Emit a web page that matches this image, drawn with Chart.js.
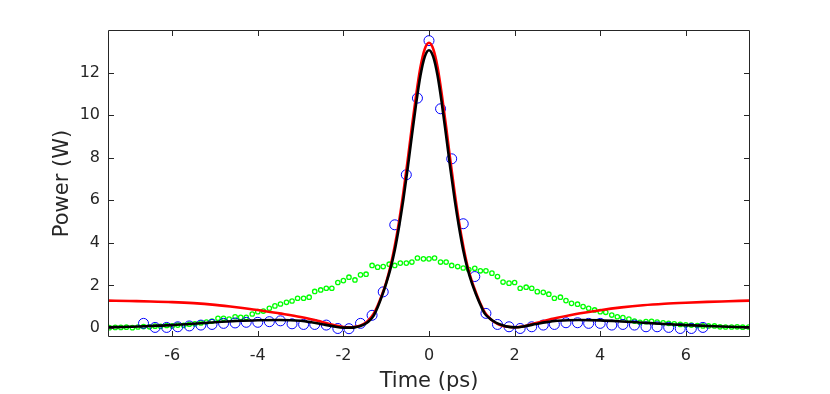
<!DOCTYPE html>
<html>
<head>
<meta charset="utf-8">
<script src="https://cdn.jsdelivr.net/npm/chart.js@4/dist/chart.umd.min.js"></script>
<style>
  body { margin: 0; background: #fff; }
  #chart { display: block; }
</style>
</head>
<body>
<canvas id="chart" width="830" height="394"></canvas>
<script>
// axis ticks
const xTickValues = [-6, -4, -2, 0, 2, 4, 6];
const yTickValues = [0, 2, 4, 6, 8, 10, 12];

// time grid for the two solid curves (ps)
const lineTime = [-7.5, -7, -6.5, -6, -5.5, -5, -4.5, -4, -3.5, -3, -2.75, -2.5, -2.25, -2, -1.8,
  -1.7, -1.6, -1.5, -1.4, -1.3, -1.2, -1.1, -1, -0.9, -0.8, -0.7, -0.6, -0.5, -0.4, -0.3, -0.2, -0.1,
  0,
  0.1, 0.2, 0.3, 0.4, 0.5, 0.6, 0.7, 0.8, 0.9, 1, 1.1, 1.2, 1.3, 1.4, 1.5, 1.6, 1.7,
  1.8, 2, 2.25, 2.5, 2.75, 3, 3.5, 4, 4.5, 5, 5.5, 6, 6.5, 7, 7.5];

// black curve (W)
const blackPower = [0.04, 0.06, 0.10, 0.14, 0.20, 0.27, 0.33, 0.37, 0.38, 0.34, 0.27, 0.18, 0.09, 0.02, 0.02,
  0.05, 0.10, 0.18, 0.33, 0.56, 0.98, 1.5, 2.1, 2.79, 3.66, 4.76, 6.03, 7.48, 9.04, 10.55, 11.86, 12.74,
  13.05,
  12.74, 11.86, 10.55, 9.04, 7.48, 6.03, 4.76, 3.66, 2.79, 2.12, 1.58, 1.1, 0.69, 0.48, 0.33, 0.22, 0.14,
  0.08, 0.03, 0.09, 0.19, 0.28, 0.34, 0.38, 0.36, 0.31, 0.25, 0.19, 0.14, 0.10, 0.06, 0.03];

// red curve (W)
const redPower = [1.29, 1.27, 1.25, 1.22, 1.17, 1.09, 0.98, 0.85, 0.69, 0.52, 0.41, 0.29, 0.15, 0.05, 0.04,
  0.07, 0.12, 0.22, 0.4, 0.65, 1.05, 1.55, 2.15, 2.9, 3.85, 5.0, 6.35, 7.85, 9.45, 10.95, 12.25, 13.1,
  13.4,
  13.1, 12.25, 10.95, 9.45, 7.85, 6.35, 5.0, 3.85, 2.9, 2.2, 1.65, 1.15, 0.75, 0.5, 0.32, 0.2, 0.12,
  0.07, 0.04, 0.1, 0.24, 0.37, 0.48, 0.68, 0.84, 0.97, 1.07, 1.14, 1.19, 1.23, 1.26, 1.29];

// blue open circles
const blueTime = [-6.67, -6.4, -6.13, -5.87, -5.6, -5.33, -5.07, -4.8, -4.53, -4.27, -4.0, -3.73, -3.47,
  -3.2, -2.93, -2.67, -2.4, -2.13, -1.87, -1.6, -1.33, -1.07, -0.8, -0.53, -0.27, 0,
  0.27, 0.53, 0.8, 1.07, 1.33, 1.6, 1.87, 2.13, 2.4, 2.67, 2.93, 3.2, 3.47, 3.73, 4.0, 4.27,
  4.53, 4.8, 5.07, 5.33, 5.6, 5.87, 6.13, 6.4];
const bluePower = [0.22, 0.03, 0.03, 0.06, 0.10, 0.14, 0.17, 0.22, 0.24, 0.27, 0.27, 0.30, 0.34,
  0.20, 0.17, 0.17, 0.14, -0.02, -0.03, 0.22, 0.6, 1.7, 4.85, 7.2, 10.8, 13.5,
  10.3, 7.95, 4.9, 2.42, 0.69, 0.17, 0.06, -0.02, 0.06, 0.14, 0.17, 0.25, 0.25, 0.22, 0.22, 0.14,
  0.17, 0.14, 0.06, 0.06, 0.03, -0.02, -0.02, 0.03];

// green small circles
const greenTime = [-7.47, -7.33, -7.2, -7.07, -6.93, -6.8, -6.67, -6.53, -6.4, -6.27, -6.13, -6.0,
  -5.87, -5.73, -5.6, -5.47, -5.33, -5.2, -5.07, -4.93, -4.8, -4.67, -4.53, -4.4, -4.27, -4.13, -4.0,
  -3.87, -3.73, -3.6, -3.47, -3.33, -3.2, -3.07, -2.93, -2.8, -2.67, -2.53, -2.4, -2.27, -2.13, -2.0,
  -1.87, -1.73, -1.6, -1.47, -1.33, -1.2, -1.07, -0.93, -0.8, -0.67, -0.53, -0.4, -0.27, -0.13, 0,
  0.13, 0.27, 0.4, 0.53, 0.67, 0.8, 0.93, 1.07, 1.2, 1.33, 1.47, 1.6, 1.73, 1.87, 2.0, 2.13, 2.27,
  2.4, 2.53, 2.67, 2.8, 2.93, 3.07, 3.2, 3.33, 3.47, 3.6, 3.73, 3.87, 4.0, 4.13, 4.27, 4.4, 4.53,
  4.67, 4.8, 4.93, 5.07, 5.2, 5.33, 5.47, 5.6, 5.73, 5.87, 6.0, 6.13, 6.27, 6.4, 6.53, 6.67, 6.8,
  6.93, 7.07, 7.2, 7.33, 7.47];
const greenPower = [0.02, 0.03, 0.03, 0.04, 0.02, 0.05, 0.07, 0.06, 0.09, 0.08, 0.12, 0.10,
  0.14, 0.13, 0.18, 0.20, 0.24, 0.28, 0.33, 0.46, 0.46, 0.42, 0.53, 0.50, 0.50, 0.66, 0.77,
  0.80, 0.93, 1.04, 1.13, 1.21, 1.27, 1.40, 1.40, 1.45, 1.72, 1.79, 1.87, 1.87, 2.14, 2.23,
  2.39, 2.26, 2.50, 2.53, 2.94, 2.86, 2.89, 3.00, 2.94, 3.05, 3.05, 3.10, 3.29, 3.25, 3.25,
  3.29, 3.10, 3.10, 2.94, 2.89, 2.82, 2.75, 2.81, 2.69, 2.69, 2.58, 2.42, 2.16, 2.11, 2.14, 1.87, 1.92,
  1.87, 1.71, 1.68, 1.59, 1.40, 1.45, 1.29, 1.16, 1.12, 1.01, 0.93, 0.85, 0.77, 0.74, 0.61, 0.53, 0.49,
  0.42, 0.33, 0.27, 0.30, 0.32, 0.28, 0.25, 0.22, 0.20, 0.17, 0.15, 0.14, 0.12, 0.10, 0.10, 0.10, 0.06,
  0.05, 0.05, 0.06, 0.04, 0.05];

const axisColor = '#262626';
const fontFamily = "'DejaVu Sans', sans-serif";

function toPoints(xs, ys) {
  return xs.map((x, i) => ({ x: x, y: ys[i] }));
}

// box and inward ticks, drawn on top like matlab axes
const boxPlugin = {
  id: 'box',
  afterDatasetsDraw(chart) {
    const { ctx, chartArea: a, scales } = chart;
    ctx.save();
    ctx.strokeStyle = axisColor;
    ctx.lineWidth = 1;
    ctx.beginPath();
    ctx.rect(a.left + 0.5, a.top + 0.5, a.right - a.left - 1, a.bottom - a.top - 1);
    scales.x.ticks.forEach((t) => {
      const px = Math.round(scales.x.getPixelForValue(t.value)) + 0.5;
      ctx.moveTo(px, a.bottom);
      ctx.lineTo(px, a.bottom - 6);
      ctx.moveTo(px, a.top);
      ctx.lineTo(px, a.top + 6);
    });
    scales.y.ticks.forEach((t) => {
      const py = Math.round(scales.y.getPixelForValue(t.value)) + 0.5;
      ctx.moveTo(a.left, py);
      ctx.lineTo(a.left + 6, py);
      ctx.moveTo(a.right, py);
      ctx.lineTo(a.right - 6, py);
    });
    ctx.stroke();
    ctx.restore();
  },
};

new Chart(document.getElementById('chart').getContext('2d'), {
  type: 'scatter',
  data: {
    datasets: [
      {
        data: toPoints(lineTime, blackPower),
        showLine: true,
        borderColor: '#000000',
        borderWidth: 2.6,
        pointRadius: 0,
        cubicInterpolationMode: 'monotone',
        order: 1,
      },
      {
        data: toPoints(lineTime, redPower),
        showLine: true,
        borderColor: '#ff0000',
        borderWidth: 2.6,
        pointRadius: 0,
        cubicInterpolationMode: 'monotone',
        order: 2,
      },
      {
        data: toPoints(blueTime, bluePower),
        showLine: false,
        pointStyle: 'circle',
        pointRadius: 5,
        borderWidth: 1,
        borderColor: '#0000ff',
        backgroundColor: 'rgba(0,0,0,0)',
        order: 3,
      },
      {
        data: toPoints(greenTime, greenPower),
        showLine: false,
        pointStyle: 'circle',
        pointRadius: 2.2,
        borderWidth: 1.3,
        borderColor: '#00ff00',
        backgroundColor: 'rgba(0,0,0,0)',
        order: 4,
      },
    ],
  },
  options: {
    responsive: false,
    animation: false,
    devicePixelRatio: 1,
    layout: { padding: { left: 0, right: 80, top: 30, bottom: 0 } },
    plugins: {
      legend: { display: false },
      tooltip: { enabled: false },
    },
    scales: {
      x: {
        type: 'linear',
        min: -7.5,
        max: 7.5,
        grid: { display: false, drawTicks: false },
        border: { display: false },
        afterBuildTicks: (scale) => {
          scale.ticks = xTickValues.map((v) => ({ value: v }));
        },
        afterFit: (scale) => {
          scale.height = 57;
        },
        ticks: {
          color: axisColor,
          padding: 9,
          font: { family: fontFamily, size: 16 },
          maxRotation: 0,
        },
        title: {
          display: true,
          text: 'Time (ps)',
          color: axisColor,
          font: { family: fontFamily, size: 21 },
          padding: { top: 0, bottom: 0 },
        },
      },
      y: {
        type: 'linear',
        min: -0.42,
        max: 14,
        grid: { display: false, drawTicks: false },
        border: { display: false },
        afterBuildTicks: (scale) => {
          scale.ticks = yTickValues.map((v) => ({ value: v }));
        },
        afterFit: (scale) => {
          scale.width = 108;
        },
        ticks: {
          color: axisColor,
          padding: 8,
          font: { family: fontFamily, size: 16 },
        },
        title: {
          display: true,
          text: 'Power (W)',
          color: axisColor,
          font: { family: fontFamily, size: 21 },
          padding: { top: 50, bottom: 0 },
        },
      },
    },
  },
  plugins: [boxPlugin],
});
</script>
</body>
</html>
